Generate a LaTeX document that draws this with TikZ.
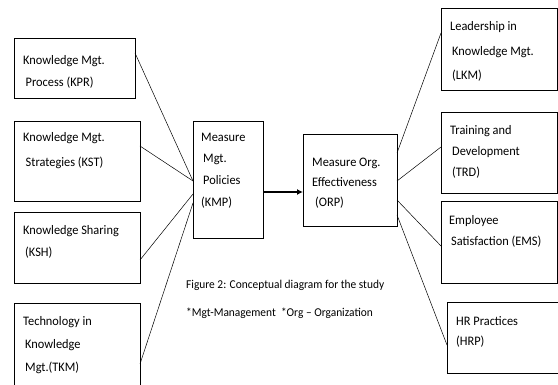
\documentclass[tikz,border=0pt]{standalone}
\usepackage{fontspec}
\setmainfont{Carlito}[FakeStretch=0.95]
\usetikzlibrary{calc,arrows.meta}
\begin{document}
\begin{tikzpicture}[x=1pt,y=-1pt,
  box/.style={draw,line width=0.8pt,rectangle,inner sep=0pt,outer sep=0pt,anchor=north west},
  txt/.style={anchor=north west,align=left,inner sep=0pt,font=\fontsize{13}{#1}\selectfont},
  txt/.default=22,
  conn/.style={line width=0.5pt},
  capt/.style={anchor=west,inner sep=0pt,font=\fontsize{12}{14}\selectfont}
  ]
\useasboundingbox (0,0) rectangle (558,385);
\clip (0,0) rectangle (558,385);
% left boxes
\node[box,minimum width=121pt,minimum height=60pt] (kpr) at (14,38) {};
\node[box,minimum width=126pt,minimum height=80pt] (kst) at (14,121) {};
\node[box,minimum width=126pt,minimum height=71pt] (ksh) at (14,212) {};
\node[box,minimum width=126pt,minimum height=100pt] (tkm) at (14,303) {};
% middle boxes
\node[box,minimum width=70pt,minimum height=117pt] (kmp) at (193,121) {};
\node[box,minimum width=94pt,minimum height=92pt] (orp) at (303,134) {};
% right boxes
\node[box,minimum width=116pt,minimum height=82pt] (lkm) at (441,8) {};
\node[box,minimum width=116pt,minimum height=81pt] (trd) at (441,112) {};
\node[box,minimum width=116pt,minimum height=82pt] (ems) at (441,201) {};
\node[box,minimum width=120pt,minimum height=71pt] (hrp) at (447,302) {};
% texts
\node[txt] (kprt) at (23,55.5) {Knowledge Mgt.\\\hspace{2.5pt}Process (KPR)};
\node[txt=25] (kstt) at (23,132.5) {Knowledge Mgt.\\\hspace{2.5pt}Strategies (KST)};
\node[txt] (ksht) at (23,225.5) {Knowledge Sharing\\\hspace{2pt}(KSH)};
\node[txt=23] (tkmt) at (23,316.5) {Technology in\\\hspace{2pt}Knowledge\\\hspace{2pt}Mgt.(TKM)};
\node[txt=21.7] (kmpt) at (201,132.5) {Measure\\\hspace{2pt}Mgt.\\\hspace{2pt}Policies\\(KMP)};
\node[txt=20] (orpt) at (312,157.5) {Measure Org.\\Effectiveness\\\hspace{3pt}(ORP)};
\node[txt=24.5] (lkmt) at (450,21.5) {Leadership in\\\hspace{2pt}Knowledge Mgt.\\\hspace{2pt}(LKM)};
\node[txt=21] (trdt) at (450,125.5) {Training and\\\hspace{2pt}Development\\\hspace{2pt}(TRD)};
\node[txt=21] (emst) at (449,215.5) {Employee\\\hspace{2pt}Satisfaction (EMS)};
\node[txt=20] (hrpt) at (456,316.5) {HR Practices\\(HRP)};
% caption
\node[capt] (cap1) at (186,285) {Figure 2: Conceptual diagram for the study};
\node[capt] (cap2) at (186,313) {*Mgt-Management\ \ *Org – Organization};
% connectors left
\draw[conn] ($(kpr.north east)+(0,15)$) -- ($(kmp.north west)+(0,60)$);
\draw[conn] ($(kst.north east)+(0,25)$) -- ($(kmp.north west)+(0,60)$);
\draw[conn] ($(ksh.north east)+(0,48)$) -- ($(kmp.north west)+(0,73)$);
\draw[conn] ($(tkm.north east)+(0,61)$) -- ($(kmp.north west)+(0,82)$);
% main arrow
\draw[line width=1.6pt,-{Latex[length=6pt,width=6pt]}] ($(kmp.north east)+(0,71)$) -- ($(orp.north west)+(0,58)$);
% connectors right
\draw[conn] ($(orp.north east)+(0,19)$) -- ($(lkm.north west)+(0,25)$);
\draw[conn] ($(orp.north east)+(0,47)$) -- ($(trd.north west)+(0,35)$);
\draw[conn] ($(orp.north east)+(0,66)$) -- ($(ems.north west)+(0,45)$);
\draw[conn] ($(orp.north east)+(0,81)$) -- ($(hrp.north west)+(0,43)$);
\end{tikzpicture}
\end{document}
